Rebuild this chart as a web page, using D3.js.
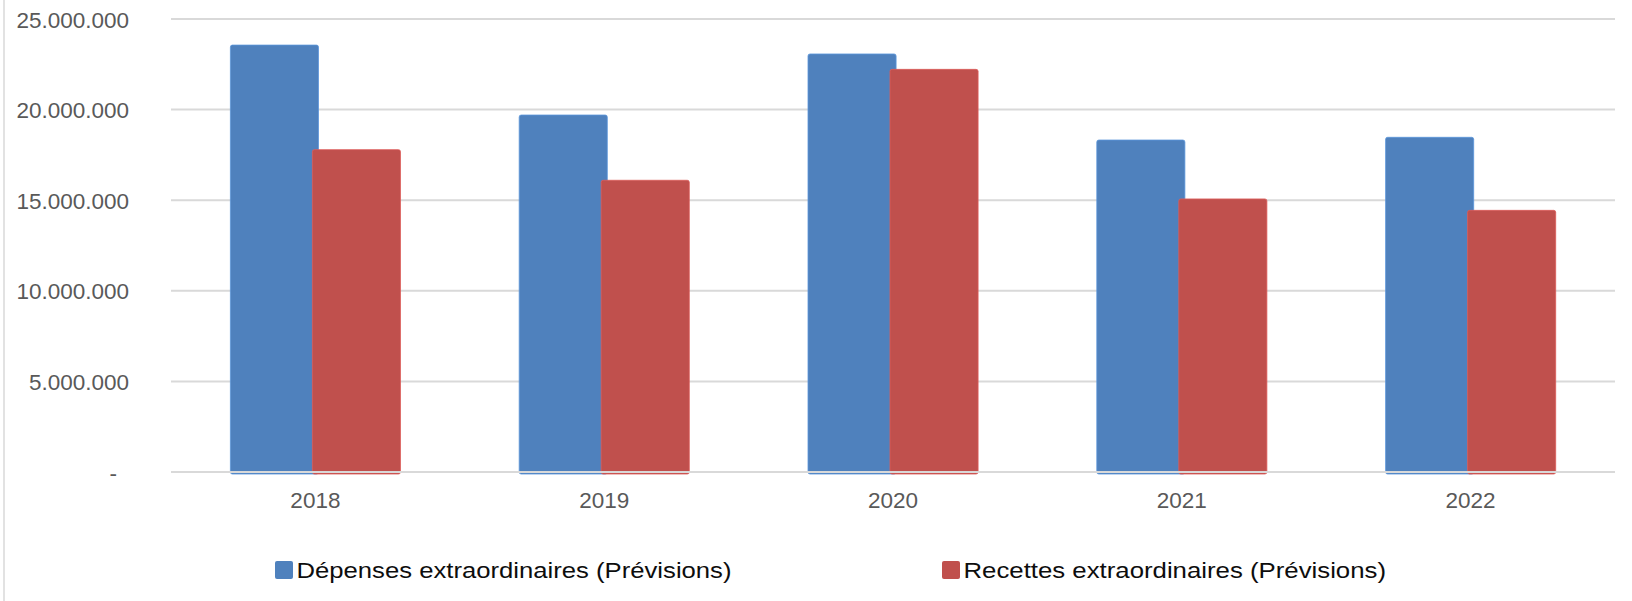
<!DOCTYPE html>
<html><head><meta charset="utf-8">
<script src="https://cdn.jsdelivr.net/npm/d3@7"></script>
<style>
html,body{margin:0;padding:0;background:#fff;}
svg{display:block;font-family:"Liberation Sans",Arial,sans-serif;}
</style></head>
<body><svg id="c" width="1632" height="601"></svg>
<script>
const categories = ["2018","2019","2020","2021","2022"];
const seriesNames = ["Dépenses extraordinaires (Prévisions)","Recettes extraordinaires (Prévisions)"];
const depenses = [23560000,19700000,23070000,18320000,18470000];
const recettes = [17790000,16100000,22220000,15070000,14440000];
const yTicks = [0,5000000,10000000,15000000,20000000,25000000];
const yTickLabels = ["-","5.000.000","10.000.000","15.000.000","20.000.000","25.000.000"];
const colors = ["#4f81bd","#c0504d"];

(function(){
const svg = d3.select("#c");
const W = 1632, H = 601;
const pLeft = 171, pRight = 1615, pTop = 19, pBottom = 472;

const x = d3.scaleBand().domain(categories).range([pLeft,pRight]).paddingInner(0).paddingOuter(0);
const y = d3.scaleLinear().domain([0,25000000]).range([pBottom,pTop]);

// left frame line
svg.append("line").attr("x1",4).attr("x2",4).attr("y1",0).attr("y2",H)
  .attr("stroke","#d9d9d9").attr("stroke-width",1.5);

// gridlines
svg.append("g").selectAll("line").data(yTicks.slice(1)).join("line")
  .attr("x1",pLeft).attr("x2",pRight)
  .attr("y1",d=>y(d)).attr("y2",d=>y(d))
  .attr("stroke","#d9d9d9").attr("stroke-width",2);

// y labels
const yAxis = d3.axisLeft(y).tickValues(yTicks).tickSize(0).tickPadding(0)
  .tickFormat((d,i)=>yTickLabels[i]);
const gy = svg.append("g").attr("transform","translate(129,0)").call(yAxis);
gy.select(".domain").remove();
gy.selectAll("text").attr("fill","#595959").attr("font-size","22.5px")
  .attr("font-family","'Liberation Sans',Arial,sans-serif")
  .attr("dy","0.36em")
  .attr("dx",(d)=> d===0 ? -12 : 0);

// bars
const bw = x.bandwidth();
const barW = bw*0.305;
const offsets = [bw/2 - 85/288.8*bw, bw/2 - 3/288.8*bw];
const series = [depenses, recettes];
series.forEach((vals,si)=>{
  svg.append("g").selectAll("rect").data(categories).join("rect")
    .attr("x",(c)=>x(c)+offsets[si])
    .attr("y",(c,i)=>y(vals[i]))
    .attr("width",barW)
    .attr("height",(c,i)=>y(0)-y(vals[i])+2)
    .attr("rx",2)
    .attr("fill",colors[si])
    .attr("stroke",d3.color(colors[si]).brighter(0.4))
    .attr("stroke-width",0.8);
});

// zero axis line
svg.append("line").attr("x1",pLeft).attr("x2",pRight).attr("y1",y(0)).attr("y2",y(0))
  .attr("stroke","#d9d9d9").attr("stroke-width",2);

// x labels
const xAxis = d3.axisBottom(x).tickSize(0).tickPadding(0);
const gx = svg.append("g").attr("transform",`translate(0,${y(0)})`).call(xAxis);
gx.select(".domain").remove();
gx.selectAll("text").attr("fill","#595959").attr("font-size","22.5px")
  .attr("font-family","'Liberation Sans',Arial,sans-serif")
  .attr("dy","1.6em");

// legend
const legX = [275, 942];
const legLen = [435, 422.5];
seriesNames.forEach((n,i)=>{
  const g = svg.append("g");
  g.append("rect").attr("x",legX[i]).attr("y",561).attr("width",18).attr("height",18)
    .attr("rx",2).attr("fill",colors[i]);
  g.append("text").attr("x",legX[i]+21.5).attr("y",577.5)
    .attr("font-size","22px").attr("fill","#0d0d0d")
    .attr("textLength",legLen[i]).attr("lengthAdjust","spacingAndGlyphs")
    .text(n);
});
})();
</script></body></html>
